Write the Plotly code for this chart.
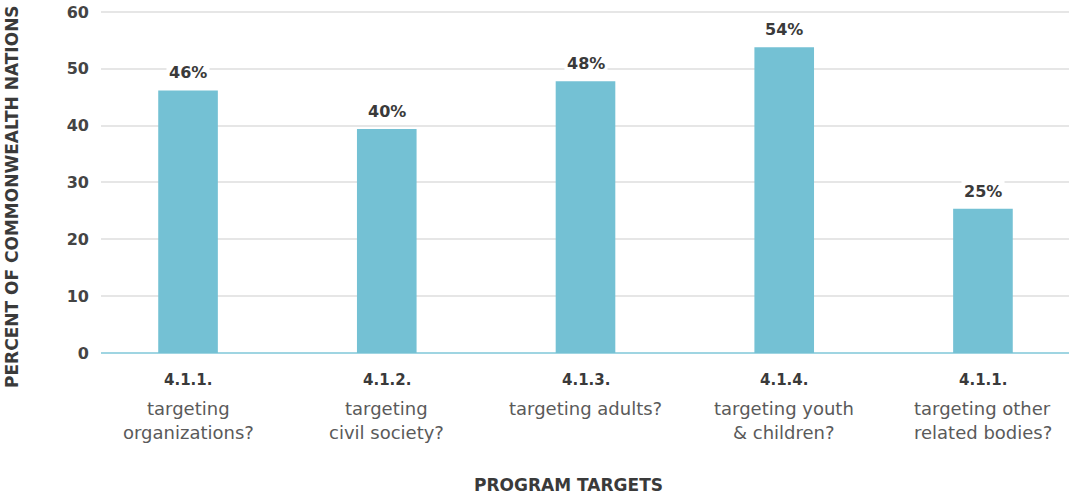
import plotly.graph_objects as go

codes = ["4.1.1.", "4.1.2.", "4.1.3.", "4.1.4.", "4.1.1."]
descriptions = [["targeting", "organizations?"], ["targeting", "civil society?"], ["targeting adults?"],
                ["targeting youth", "& children?"], ["targeting other", "related bodies?"]]
values = [46.2, 39.4, 47.8, 53.8, 25.4]
labels = ["46%", "40%", "48%", "54%", "25%"]
y_ticks = [0, 10, 20, 30, 40, 50, 60]

x = list(range(len(values)))
bar_color = "#74c1d4"
FONT = "DejaVu Sans"
PLOT_H = 343

fig = go.Figure()
fig.add_trace(go.Bar(x=x, y=values, width=0.30, marker=dict(color=bar_color, line=dict(width=0)),
                     hoverinfo="skip"))

for xi, v, lab in zip(x, values, labels):
    fig.add_annotation(x=xi, y=v, text="<b>" + lab + "</b>", showarrow=False, yanchor="bottom",
                       yshift=5, bgcolor="white", borderpad=2,
                       font=dict(family=FONT, size=16, color="#3a3a3a"))

# category labels under axis
for xi, c, d in zip(x, codes, descriptions):
    fig.add_annotation(x=xi, xref="x", y=0, yref="paper", yshift=-27, yanchor="middle",
                       text="<b>" + c + "</b>", showarrow=False,
                       font=dict(family=FONT, size=15, color="#3a3a3a"))
    for k, line in enumerate(d):
        fig.add_annotation(x=xi, xref="x", y=0, yref="paper", yshift=-55 - 24 * k, yanchor="middle",
                           text=line, showarrow=False,
                           font=dict(family=FONT, size=18, color="#5a5a5a"))

fig.update_layout(
    width=1069, height=496,
    margin=dict(l=101, r=0, t=10, b=143),
    paper_bgcolor="white", plot_bgcolor="white",
    showlegend=False,
    font=dict(family=FONT, color="#5a5a5a"),
    xaxis=dict(range=[-0.438, 4.433], tickvals=x, showticklabels=False, showgrid=False,
               zeroline=False, showline=False, ticks=""),
    yaxis=dict(range=[0, 60.35], tickvals=y_ticks, showgrid=True, gridcolor="#e6e6e6", gridwidth=2,
               zeroline=True, zerolinecolor="#9fd5e2", zerolinewidth=2, showline=False, ticks="",
               ticklabelstandoff=11, ticklabeloverflow="allow",
               tickfont=dict(family=FONT, size=16, color="#444444", weight="bold")),
)

fig.add_annotation(text="<b>PERCENT OF COMMONWEALTH NATIONS</b>", xref="paper", yref="paper",
                   x=0, xshift=-89, xanchor="center", y=0, yshift=156, yanchor="middle", showarrow=False,
                   textangle=-90, font=dict(family=FONT, size=17, color="#3a3a3a"))
fig.add_annotation(text="<b>PROGRAM TARGETS</b>", xref="paper", yref="paper",
                   x=(568 - 101) / 968, xanchor="center", y=0, yshift=-132, yanchor="middle",
                   showarrow=False, font=dict(family=FONT, size=17, color="#3a3a3a"))

fig.write_html("out.html", config={"displayModeBar": False},
               post_script="document.body.style.margin='0';")
